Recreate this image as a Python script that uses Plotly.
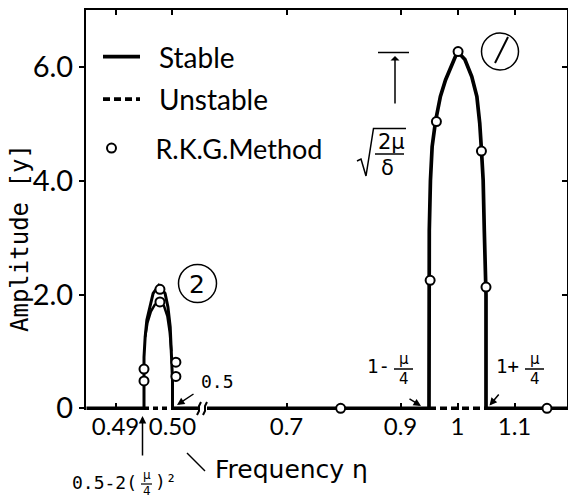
import plotly.graph_objects as go

# ---------------- data ----------------
# Region 2 (eta near 0.5)
peak2_outer_x = [0.4950, 0.4950, 0.4952, 0.4955, 0.4962, 0.4966, 0.4976, 0.4987, 0.4992, 0.4996, 0.4998, 0.5000, 0.5000]
peak2_outer_y = [0.00, 0.90, 1.25, 1.55, 1.85, 2.02, 2.16, 2.02, 1.78, 1.43, 0.97, 0.50, 0.00]
peak2_inner_x = [0.4952, 0.4956, 0.4962, 0.4969, 0.4977, 0.4985, 0.4991, 0.4995, 0.4998]
peak2_inner_y = [1.25, 1.50, 1.70, 1.82, 1.86, 1.80, 1.62, 1.35, 1.00]
stable_zero_left_x = [0.4849, 0.4950, None, 0.5000, 0.5045]
stable_zero_left_y = [0, 0, None, 0, 0]
unstable_left_x = [0.4950, 0.5000]
unstable_left_y = [0, 0]
rkg_left_x = [0.4950, 0.4950, 0.4978, 0.4978, 0.5006, 0.5006]
rkg_left_y = [0.69, 0.48, 2.09, 1.87, 0.81, 0.56]

# Region 1 (eta near 1)
peak1_x = [0.950, 0.950, 0.9505, 0.9525, 0.9555, 0.9615, 0.970, 0.979, 0.991, 1.000,
           1.013, 1.025, 1.034, 1.039, 1.042, 1.045, 1.047, 1.050, 1.050]
peak1_y = [0.00, 2.00, 3.13, 4.00, 4.60, 5.05, 5.48, 5.77, 6.07, 6.27,
           6.13, 5.83, 5.48, 5.01, 4.54, 4.01, 3.13, 2.00, 0.00]
stable_zero_right_x = [0.5605, 0.950, None, 1.050, 1.1921]
stable_zero_right_y = [0, 0, None, 0, 0]
unstable_right_x = [0.950, 1.050]
unstable_right_y = [0, 0]
rkg_right_x = [0.795, 0.963, 0.952, 1.001, 1.042, 1.050, 1.157]
rkg_right_y = [0.00, 5.04, 2.25, 6.27, 4.52, 2.13, 0.00]

xticks_left = [0.49, 0.50]
xticklabels_left = ["0.49", "0.50"]
xticks_right = [0.7, 0.9, 1.0, 1.1]
xticklabels_right = ["0.7", "0.9", "1", "1.1"]
yticks = [0, 2, 4, 6]
yticklabels = ["0", "2.0", "4.0", "6.0"]

# ---------------- layout helpers ----------------
L, R, T, B = 86, 567, 10, 410
W, H = R - L, B - T
def xp(px):
    return (px - L) / W
def yp(py):
    return (B - py) / H

NARROW = "Lato, Roboto, sans-serif"
MONO = "DejaVu Sans Mono, Liberation Mono, monospace"
SANS = "DejaVu Sans, sans-serif"
LW = 3.7
BLACK = "#000000"
DASH = "7px,4px"

fig = go.Figure()

# stable branches
fig.add_trace(go.Scatter(x=peak1_x, y=peak1_y, xaxis="x2", yaxis="y2", mode="lines",
                         line=dict(color=BLACK, width=LW), name="\u2002Stable",
                         legendgroup="a", showlegend=True))
fig.add_trace(go.Scatter(x=stable_zero_right_x, y=stable_zero_right_y, xaxis="x2", yaxis="y2",
                         mode="lines", line=dict(color=BLACK, width=LW), showlegend=False,
                         legendgroup="a"))
fig.add_trace(go.Scatter(x=peak2_outer_x, y=peak2_outer_y, mode="lines",
                         line=dict(color=BLACK, width=3), showlegend=False, legendgroup="a"))
fig.add_trace(go.Scatter(x=peak2_inner_x, y=peak2_inner_y, mode="lines",
                         line=dict(color=BLACK, width=2.5), showlegend=False, legendgroup="a"))
fig.add_trace(go.Scatter(x=stable_zero_left_x, y=stable_zero_left_y, mode="lines",
                         line=dict(color=BLACK, width=LW), showlegend=False, legendgroup="a"))
# unstable branches
fig.add_trace(go.Scatter(x=unstable_right_x, y=unstable_right_y, xaxis="x2", yaxis="y2",
                         mode="lines", line=dict(color=BLACK, width=LW, dash=DASH),
                         name="\u2002Unstable", legendgroup="b", showlegend=True))
fig.add_trace(go.Scatter(x=unstable_left_x, y=unstable_left_y, mode="lines",
                         line=dict(color=BLACK, width=LW, dash="5px,4px"),
                         showlegend=False, legendgroup="b"))
# R.K.G. points
mk = dict(symbol="circle", size=9, color="white", line=dict(color=BLACK, width=2))
fig.add_trace(go.Scatter(x=rkg_right_x, y=rkg_right_y, xaxis="x2", yaxis="y2", mode="markers",
                         marker=mk, name="\u2002\u00a0R.K.G.Method", legend="legend2",
                         showlegend=True, cliponaxis=False))
fig.add_trace(go.Scatter(x=rkg_left_x, y=rkg_left_y, mode="markers", marker=mk,
                         showlegend=False, cliponaxis=False))
# empty traces so the top (mirror) axes are drawn
fig.add_trace(go.Scatter(x=[], y=[], xaxis="x3", yaxis="y", showlegend=False))
fig.add_trace(go.Scatter(x=[], y=[], xaxis="x4", yaxis="y2", showlegend=False))

d = xp(202)
xtickfont = dict(family=NARROW, size=24, color=BLACK)
ytickfont = dict(family=NARROW, size=29, color=BLACK)
common_x = dict(showgrid=False, zeroline=False, showline=False, ticks="inside", ticklen=7,
                tickwidth=1.5, tickcolor=BLACK, tickfont=xtickfont, tickangle=0)
top_x = dict(showgrid=False, zeroline=False, showline=True, linewidth=2, linecolor=BLACK,
             ticks="inside", ticklen=5, tickwidth=1.5, tickcolor=BLACK, side="top",
             showticklabels=False)
fig.update_layout(
    width=568, height=499,
    margin=dict(l=L, r=568 - R, t=T, b=499 - B),
    paper_bgcolor="white", plot_bgcolor="white",
    xaxis=dict(domain=[0, d], range=[0.48482, 0.50518], anchor="y",
               tickvals=xticks_left, ticktext=xticklabels_left, **common_x),
    xaxis2=dict(domain=[d, 1], range=[0.55175, 1.1921], anchor="y2",
                tickvals=xticks_right, ticktext=xticklabels_right, **common_x),
    xaxis3=dict(domain=[0, d], range=[0.48482, 0.50518], anchor="y", overlaying="x",
                tickvals=xticks_left, **top_x),
    xaxis4=dict(domain=[d, 1], range=[0.55175, 1.1921], anchor="y2", overlaying="x2",
                tickvals=xticks_right, **top_x),
    yaxis=dict(domain=[0, 1], range=[-0.03, 7.0], anchor="x", side="left",
               showgrid=False, zeroline=False, showline=True, linewidth=2, linecolor=BLACK,
               ticks="outside", ticklen=5, tickwidth=1.5, tickcolor=BLACK,
               tickvals=yticks, ticktext=yticklabels, tickfont=ytickfont),
    yaxis2=dict(domain=[0, 1], range=[-0.03, 7.0], anchor="x2", side="right",
                showgrid=False, zeroline=False, showline=True, linewidth=2, linecolor=BLACK,
                ticks="inside", ticklen=5, tickwidth=1.5, tickcolor=BLACK,
                tickvals=yticks, showticklabels=False),
    legend=dict(x=xp(98), y=yp(32), xanchor="left", yanchor="top",
                bgcolor="rgba(0,0,0,0)", font=dict(family=NARROW, size=28, color=BLACK),
                traceorder="grouped", tracegroupgap=3, itemwidth=37),
    legend2=dict(x=xp(88), y=yp(124), xanchor="left", yanchor="top",
                 bgcolor="rgba(0,0,0,0)", font=dict(family=NARROW, size=27, color=BLACK),
                 itemwidth=37),
    showlegend=True,
)

ann = []
def text(s, px, py, size, family, xanchor="center", yanchor="middle", angle=0):
    ann.append(dict(text=s, x=xp(px), y=yp(py), xref="paper", yref="paper", showarrow=False,
                    xanchor=xanchor, yanchor=yanchor, textangle=angle,
                    font=dict(family=family, size=size, color=BLACK)))
def arrow(hx, hy, tx, ty, head=2):
    ann.append(dict(text="", x=xp(hx), y=yp(hy), xref="paper", yref="paper", showarrow=True,
                    ax=tx - hx, ay=ty - hy, axref="pixel", ayref="pixel",
                    arrowhead=head, arrowsize=1, arrowwidth=1.5, arrowcolor=BLACK))

text("Amplitude [y]", 20, 238, 24, MONO, angle=-90)
text("Frequency η", 213, 469, 25, SANS, xanchor="left")
text("0.5", 217, 381, 18, MONO)
arrow(177, 405, 195, 393)
text("0.5-2(", 139, 482, 18, MONO, xanchor="right")
text("μ<br>4", 146.5, 483, 12, SANS)
text(")²", 153, 481, 18, MONO, xanchor="left")
arrow(142.5, 416, 142.5, 457)
text("1-", 392, 366, 19, MONO, xanchor="right")
text("μ<br>4", 403.5, 369, 15, SANS)
arrow(421, 406, 408, 398)
text("1+", 521, 366, 19, MONO, xanchor="right")
text("μ<br>4", 534.5, 369, 15, SANS)
arrow(489.5, 405.5, 500, 393)
text("2μ", 391, 142, 21, SANS)
text("δ", 387.5, 168, 21, SANS)
arrow(395, 56, 395, 105, head=1)
text("2", 196.5, 284, 25, SANS)

shapes = []
def line(x0, y0, x1, y1, w=1.5):
    shapes.append(dict(type="line", xref="paper", yref="paper", x0=xp(x0), y0=yp(y0),
                       x1=xp(x1), y1=yp(y1), line=dict(color=BLACK, width=w)))
def circle(x0, y0, x1, y1, w=1.5):
    shapes.append(dict(type="circle", xref="paper", yref="paper", x0=xp(x0), y0=yp(y0),
                       x1=xp(x1), y1=yp(y1), line=dict(color=BLACK, width=w)))
def path(points, w=1.5):
    dstr = "M" + " L".join(f"{xp(a):.5f},{yp(b):.5f}" for a, b in points)
    shapes.append(dict(type="path", xref="paper", yref="paper", path=dstr,
                       line=dict(color=BLACK, width=w)))

line(187, 453, 205, 471, 1.5)          # "\" pointer to axis title
line(141, 484, 152, 484, 1.2)          # fraction bar mu/4 (bottom)
line(394, 369, 413, 369, 1.5)          # fraction bar 1-mu/4
line(525, 369, 544, 369, 1.5)          # fraction bar 1+mu/4
line(375, 154, 404, 154, 1.5)          # fraction bar 2mu/delta
line(378, 52.5, 409, 52.5, 1.5)        # level bar
path([(357, 161), (361, 159), (366, 176), (373.5, 128.5), (406, 128.5)], 1.5)  # radical
circle(481.5, 33, 518.5, 70, 1.5)      # circled 1
line(495, 63, 508, 37, 2)
circle(178.5, 264.5, 216.5, 302.5, 1.5)  # circled 2
# axis break marks
path([(197, 415), (199, 411), (199, 406), (201, 402)], 2)
path([(203, 415), (205, 411), (205, 406), (207, 402)], 2)

fig.update_layout(annotations=ann, shapes=shapes)
fig.write_html("out.html")
